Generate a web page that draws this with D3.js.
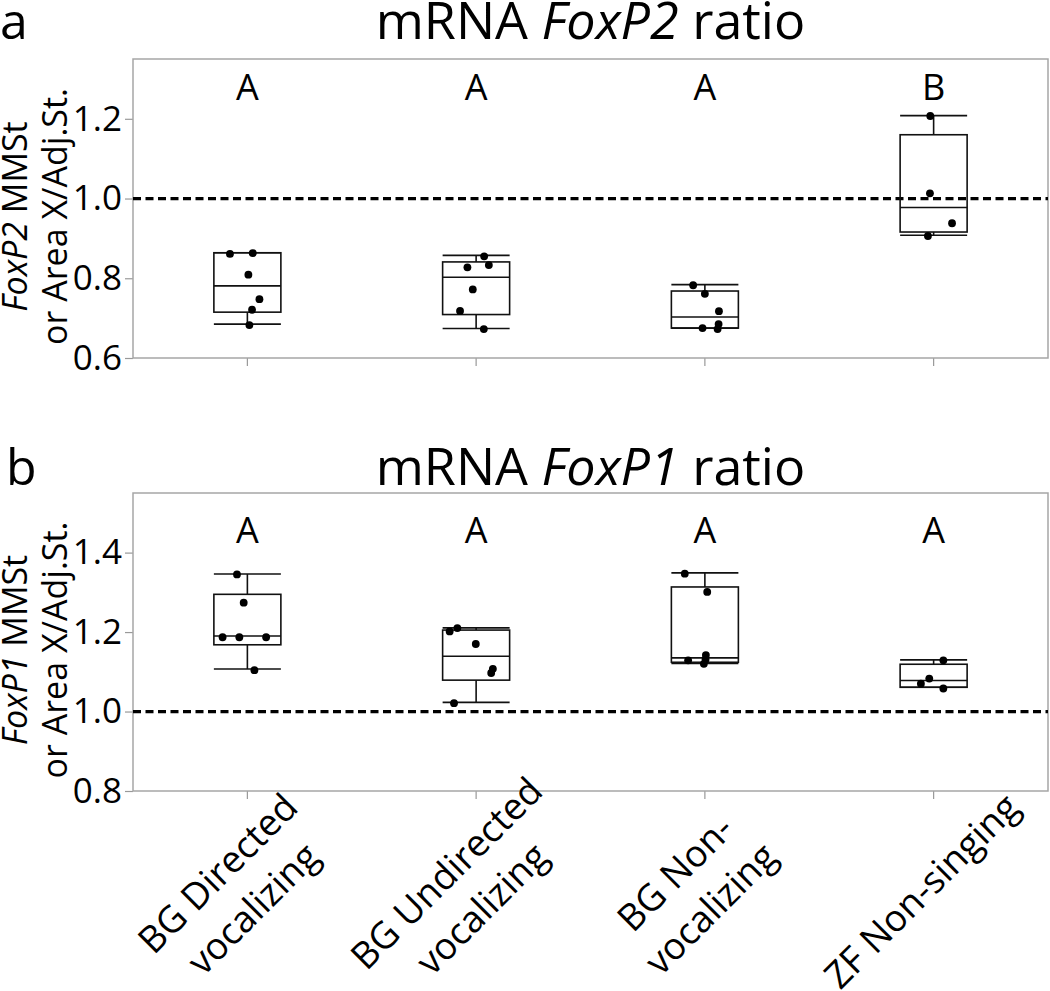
<!DOCTYPE html>
<html>
<head>
<meta charset="utf-8">
<script src="https://cdn.jsdelivr.net/npm/d3@7"></script>
<style>
  html, body { margin: 0; padding: 0; background: #fff; }
  svg { display: block; font-family: "Open Sans", sans-serif; }
</style>
</head>
<body>
<svg id="chart" width="1050" height="991"></svg>
<script>
// ---------- DATA ----------
const categories = ["BG Directed vocalizing", "BG Undirected vocalizing", "BG Non-vocalizing", "ZF Non-singing"];
const categoryLines = [["BG Directed", "vocalizing"], ["BG Undirected", "vocalizing"], ["BG Non-", "vocalizing"], ["ZF Non-singing"]];

// box stats: [lower whisker, Q1, median, Q3, upper whisker]
const foxp2Boxes = [
  [0.685, 0.715, 0.781, 0.864, 0.864],
  [0.674, 0.709, 0.8025, 0.841, 0.8575],
  [0.675, 0.675, 0.703, 0.768, 0.784],
  [0.908, 0.916, 0.9775, 1.160, 1.208]
];
// individual points: value and horizontal jitter (fraction of half box width)
const foxp2Values = [
  [0.861, 0.863, 0.809, 0.7475, 0.721, 0.6825],
  [0.855, 0.8275, 0.833, 0.772, 0.718, 0.6725],
  [0.7825, 0.761, 0.7175, 0.675, 0.685, 0.6725],
  [1.207, 1.013, 0.938, 0.906]
];
const foxp2Jitter = [
  [-0.52, 0.16, 0.03, 0.36, 0.14, 0.06],
  [0.24, -0.26, 0.38, -0.10, -0.48, 0.23],
  [-0.35, 0.0, 0.42, -0.07, 0.41, 0.38],
  [-0.10, -0.11, 0.55, -0.17]
];
const foxp2Letters = ["A", "A", "A", "B"];
const foxp2Ticks = [0.6, 0.8, 1.0, 1.2];

const foxp1Boxes = [
  [1.107, 1.168, 1.190, 1.295, 1.346],
  [1.023, 1.079, 1.139, 1.205, 1.2105],
  [1.121, 1.124, 1.135, 1.3135, 1.349],
  [1.061, 1.061, 1.078, 1.119, 1.130]
];
const foxp1Values = [
  [1.345, 1.274, 1.187, 1.187, 1.187, 1.104],
  [1.2015, 1.210, 1.170, 1.1075, 1.097, 1.021],
  [1.347, 1.301, 1.129, 1.142, 1.131, 1.120],
  [1.129, 1.083, 1.070, 1.058]
];
const foxp1Jitter = [
  [-0.31, -0.11, -0.74, -0.24, 0.56, 0.21],
  [-0.79, -0.56, -0.01, 0.50, 0.45, -0.66],
  [-0.60, 0.07, -0.50, 0.03, 0.02, -0.03],
  [0.29, -0.13, -0.38, 0.29]
];
const foxp1Letters = ["A", "A", "A", "A"];
const foxp1Ticks = [0.8, 1.0, 1.2, 1.4];

const referenceValue = 1.0;

// ---------- LAYOUT ----------
const svg = d3.select("#chart");
const plotLeft = 133, plotRight = 1048;
const x = d3.scaleBand().domain(categories).range([plotLeft, plotRight]).padding(0);
const boxW = 67;

const panels = [
  { letter: "a", gene: "FoxP2", top: 59, bottom: 358, domain: [0.6, 1.35],
    boxes: foxp2Boxes, values: foxp2Values, jitter: foxp2Jitter, letters: foxp2Letters, ticks: foxp2Ticks,
    titleY: 39, letterY: 100, showX: false },
  { letter: "b", gene: "FoxP1", top: 493, bottom: 791, domain: [0.8, 1.55],
    boxes: foxp1Boxes, values: foxp1Values, jitter: foxp1Jitter, letters: foxp1Letters, ticks: foxp1Ticks,
    titleY: 485, letterY: 543, showX: true }
];

panels.forEach(p => {
  const y = d3.scaleLinear().domain(p.domain).range([p.bottom, p.top]);
  const g = svg.append("g");

  // panel letter
  g.append("text").attr("x", p.letter === "a" ? 0 : 6).attr("y", p.titleY)
    .attr("font-size", 50).attr("fill", "#000").text(p.letter);

  // title
  const t = g.append("text").attr("x", (plotLeft + plotRight) / 2).attr("y", p.titleY)
    .attr("text-anchor", "middle").attr("font-size", 52).attr("fill", "#000");
  t.append("tspan").text("mRNA ");
  t.append("tspan").attr("font-style", "italic").text(p.gene);
  t.append("tspan").text(" ratio");

  // y axis
  const yAxis = g.append("g").attr("transform", `translate(${plotLeft},0)`)
    .call(d3.axisLeft(y).tickValues(p.ticks).tickFormat(d3.format(".1f")).tickSize(8).tickPadding(3));
  yAxis.select(".domain").remove();
  yAxis.selectAll(".tick line").attr("stroke", "#999").attr("stroke-width", 1.2);
  yAxis.selectAll(".tick text").attr("font-size", 35).attr("fill", "#000")
    .attr("font-family", "'Open Sans', sans-serif");

  // x axis ticks
  const xAxis = g.append("g").attr("transform", `translate(0,${p.bottom})`)
    .call(d3.axisBottom(x).tickSize(8).tickFormat(""));
  xAxis.select(".domain").remove();
  xAxis.selectAll(".tick line").attr("stroke", "#999").attr("stroke-width", 1.2);

  // frame
  g.append("rect").attr("x", plotLeft).attr("y", p.top)
    .attr("width", plotRight - plotLeft).attr("height", p.bottom - p.top)
    .attr("fill", "none").attr("stroke", "#a6a6a6").attr("stroke-width", 1.5);

  // y label
  const cy = (p.top + p.bottom) / 2 + 8;
  const yl = g.append("text").attr("transform", `translate(27,${cy}) rotate(-90)`)
    .attr("text-anchor", "middle").attr("font-size", 34).attr("fill", "#000");
  yl.append("tspan").attr("font-style", "italic").text(p.gene);
  yl.append("tspan").text(" MMSt");
  g.append("text").attr("transform", `translate(67,${cy}) rotate(-90)`)
    .attr("text-anchor", "middle").attr("font-size", 34).attr("fill", "#000")
    .text("or Area X/Adj.St.");

  // reference dashed line
  g.append("line").attr("x1", plotLeft).attr("x2", plotRight)
    .attr("y1", y(referenceValue)).attr("y2", y(referenceValue))
    .attr("stroke", "#000").attr("stroke-width", 3.2).attr("stroke-dasharray", "8,4.5");

  // boxes
  categories.forEach((c, i) => {
    const cx = x(c) + x.bandwidth() / 2;
    const [lw, q1, med, q3, uw] = p.boxes[i];
    const bg = g.append("g").attr("stroke", "#111").attr("stroke-width", 1.6).attr("fill", "none");
    // whiskers
    bg.append("line").attr("x1", cx).attr("x2", cx).attr("y1", y(q3)).attr("y2", y(uw));
    bg.append("line").attr("x1", cx).attr("x2", cx).attr("y1", y(q1)).attr("y2", y(lw));
    bg.append("line").attr("x1", cx - boxW / 2).attr("x2", cx + boxW / 2).attr("y1", y(uw)).attr("y2", y(uw));
    bg.append("line").attr("x1", cx - boxW / 2).attr("x2", cx + boxW / 2).attr("y1", y(lw)).attr("y2", y(lw));
    // box
    bg.append("rect").attr("x", cx - boxW / 2).attr("y", y(q3))
      .attr("width", boxW).attr("height", y(q1) - y(q3));
    bg.append("line").attr("x1", cx - boxW / 2).attr("x2", cx + boxW / 2).attr("y1", y(med)).attr("y2", y(med));

    // points
    g.append("g").selectAll("circle").data(p.values[i]).join("circle")
      .attr("cx", (d, k) => cx + p.jitter[i][k] * boxW / 2)
      .attr("cy", d => y(d)).attr("r", 3.9).attr("fill", "#000");

    // group letter
    g.append("text").attr("x", cx).attr("y", p.letterY).attr("text-anchor", "middle")
      .attr("font-size", 36).attr("fill", "#000").text(p.letters[i]);

    // category labels
    if (p.showX) {
      const lines = categoryLines[i];
      const lh = 50;
      const lab = g.append("text")
        .attr("transform", `translate(${cx - 12},${891}) rotate(-45)`)
        .attr("text-anchor", "middle").attr("font-size", 37).attr("fill", "#000");
      lines.forEach((ln, k) => {
        const off = (k - (lines.length - 1) / 2) * lh + 13;
        lab.append("tspan").attr("x", 0).attr("y", off).text(ln);
      });
    }
  });
});
</script>
</body>
</html>
